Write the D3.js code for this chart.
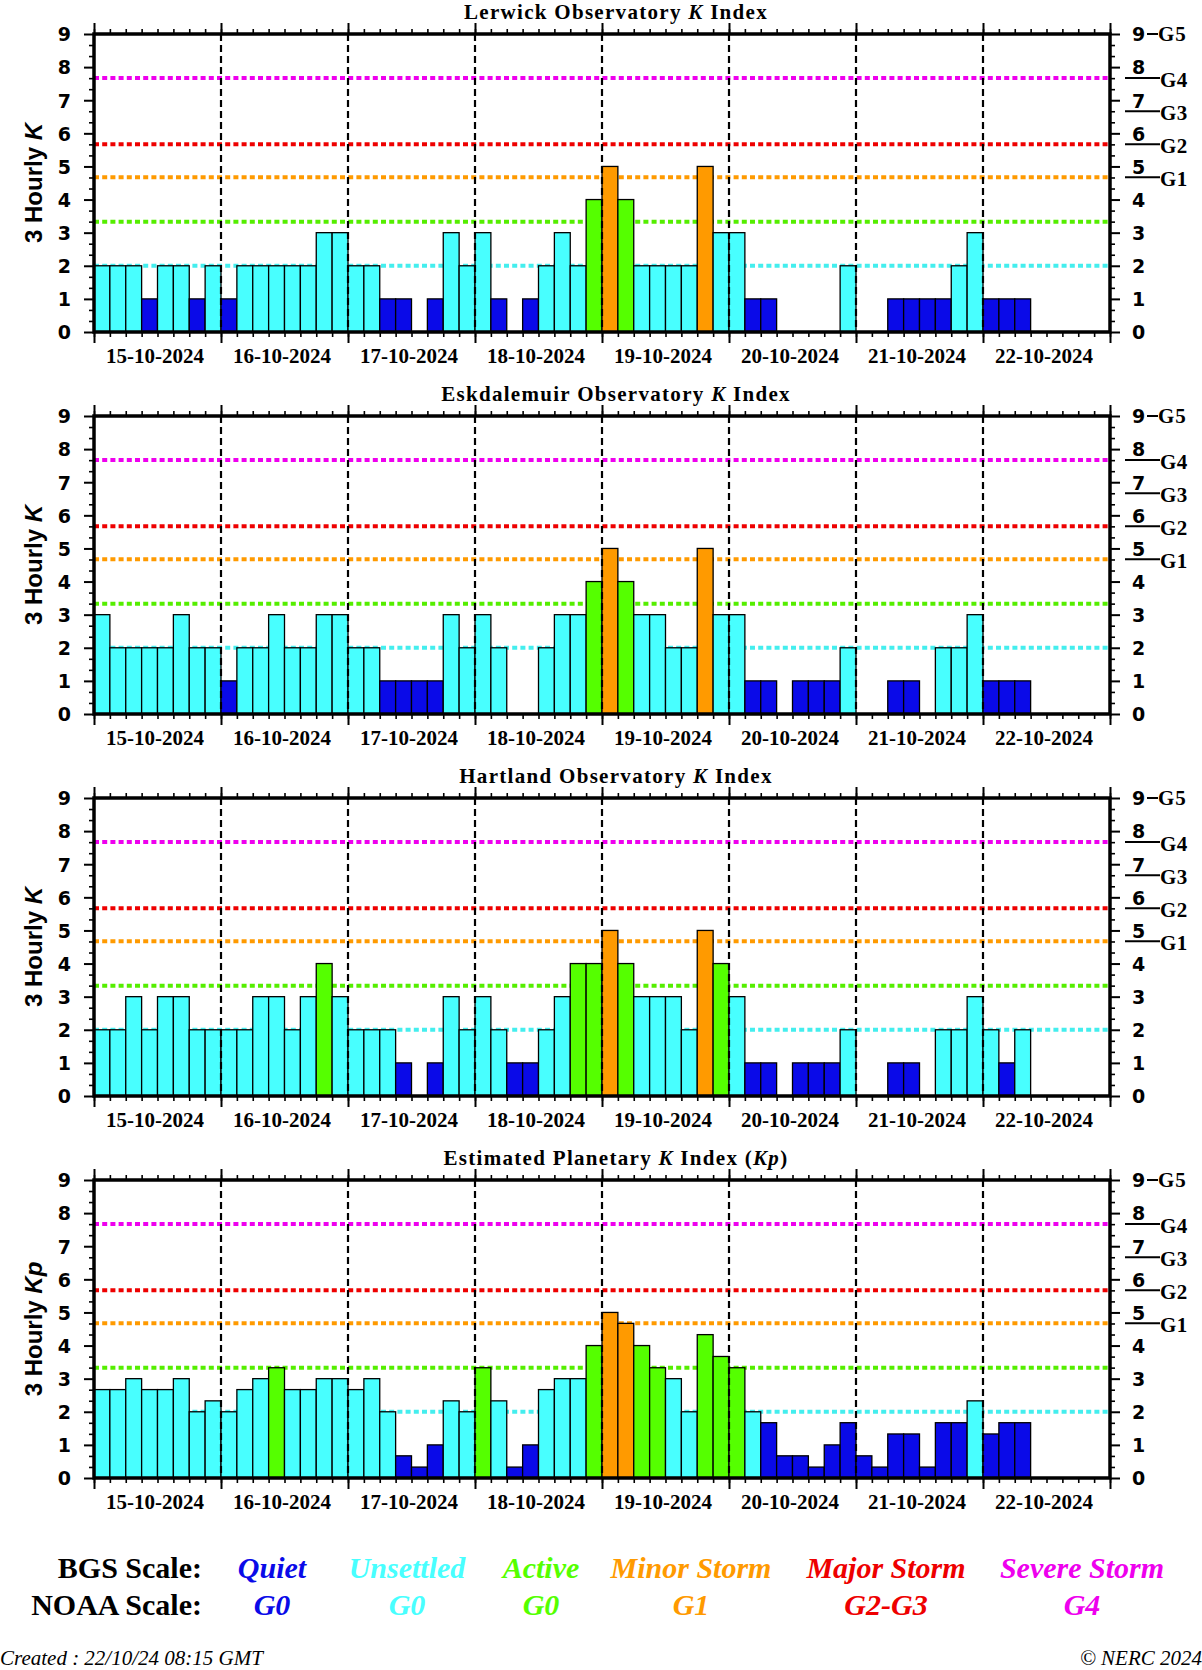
<!DOCTYPE html>
<html><head><meta charset="utf-8">
<script src="https://cdn.jsdelivr.net/npm/d3@7"></script>
<style>body{margin:0;background:#fff}svg{display:block}</style>
</head><body>
<script>
// ---------- DATA ----------
const days = ["15-10-2024","16-10-2024","17-10-2024","18-10-2024","19-10-2024","20-10-2024","21-10-2024","22-10-2024"];
const panelNames = ["Lerwick Observatory", "Eskdalemuir Observatory", "Hartland Observatory", "Estimated Planetary"];
const yLabelSymbols = ["K", "K", "K", "Kp"];
const lerwickK = [2,2,2,1,2,2,1,2, 1,2,2,2,2,2,3,3, 2,2,1,1,0,1,3,2, 3,1,0,1,2,3,2,4, 5,4,2,2,2,2,5,3, 3,1,1,0,0,0,0,2, 0,0,1,1,1,1,2,3, 1,1,1];
const eskdalemuirK = [3,2,2,2,2,3,2,2, 1,2,2,3,2,2,3,3, 2,2,1,1,1,1,3,2, 3,2,0,0,2,3,3,4, 5,4,3,3,2,2,5,3, 3,1,1,0,1,1,1,2, 0,0,1,1,0,2,2,3, 1,1,1];
const hartlandK = [2,2,3,2,3,3,2,2, 2,2,3,3,2,3,4,3, 2,2,2,1,0,1,3,2, 3,2,1,1,2,3,4,4, 5,4,3,3,3,2,5,4, 3,1,1,0,1,1,1,2, 0,0,1,1,0,2,2,3, 2,1,2];
const planetaryKp = [2.67,2.67,3,2.67,2.67,3,2,2.33, 2,2.67,3,3.33,2.67,2.67,3,3, 2.67,3,2,0.67,0.33,1,2.33,2, 3.33,2.33,0.33,1,2.67,3,3,4, 5,4.67,4,3.33,3,2,4.33,3.67, 3.33,2,1.67,0.67,0.67,0.33,1,1.67, 0.67,0.33,1.33,1.33,0.33,1.67,1.67,2.33, 1.33,1.67,1.67];
const yTicks = [0,1,2,3,4,5,6,7,8,9];
const bgsLevels = [2, 3.33, 4.67, 5.67, 7.67];           // lower bounds of Unsettled..Severe
const bgsLabels = ["Quiet","Unsettled","Active","Minor Storm","Major Storm","Severe Storm"];
const noaaLabels = ["G0","G0","G0","G1","G2-G3","G4"];
const gLabels = ["G1","G2","G3","G4"];
const gLevels = [4.67, 5.67, 6.67, 7.67];
const g5Label = "G5";
const createdText = "Created : 22/10/24 08:15 GMT";
const copyrightText = "\u00A9 NERC 2024";

// ---------- STYLE / LAYOUT ----------
const scaleColors = ["#0a0ae8", "#48ffff", "#55ff00", "#ff9a00", "#ee0000", "#ee00ee"];
const lineColors  = ["#44eeee", "#55ee00", "#ff9a00", "#ee0000", "#ee00ee"];
const W = 1202, H = 1670, L = 94, R = 1110, PH = 298;
const panelTops = [34, 416, 798, 1180];
const legendCenters = [272, 407, 541, 691, 886, 1082];
const series = [lerwickK, eskdalemuirK, hartlandK, planetaryKp];

const svg = d3.select("body").append("svg").attr("width", W).attr("height", H)
  .style("font-family", "'Liberation Serif', serif");

const t0 = Date.UTC(2024, 9, 15), t1 = Date.UTC(2024, 9, 23);
const H3 = 3 * 3600 * 1000, DAY = 24 * 3600 * 1000;
const x = d3.scaleUtc().domain([t0, t1]).range([L, R]);
const colorOf = d3.scaleThreshold().domain(bgsLevels).range(scaleColors);
const hours3 = d3.utcHour.every(3).range(new Date(t0), new Date(t1 + 1));
const dayBounds = d3.utcDay.range(new Date(t0), new Date(t1 + 1));
const noons = days.map((d, i) => new Date(t0 + i * DAY + DAY / 2));
const thirds = d3.range(0, 28).map(i => i / 3).filter(v => Math.abs(v - Math.round(v)) > 1e-6);

series.forEach((vals, p) => {
  const top = panelTops[p], bot = top + PH;
  const y = d3.scaleLinear().domain([0, 9]).range([bot, top]);
  const g = svg.append("g");

  // title
  const title = g.append("text").attr("x", 616).attr("y", top - 15).attr("text-anchor", "middle")
    .attr("font-weight", "bold").attr("font-size", 21).attr("letter-spacing", 1.3);
  title.append("tspan").text(panelNames[p] + " ");
  title.append("tspan").attr("font-style", "italic").text("K");
  title.append("tspan").text(" Index");
  if (p === 3) {
    title.append("tspan").text(" (");
    title.append("tspan").attr("font-style", "italic").text("Kp");
    title.append("tspan").text(")");
  }

  // threshold lines
  g.selectAll(".thr").data(bgsLevels).join("line")
    .attr("x1", L).attr("x2", R).attr("y1", d => y(d)).attr("y2", d => y(d))
    .attr("stroke", (d, i) => lineColors[i]).attr("stroke-width", 4).attr("stroke-dasharray", "5,3.2");

  // bars
  g.selectAll(".bar").data(vals).join("rect")
    .attr("x", (d, i) => x(t0 + i * H3))
    .attr("width", (d, i) => x(t0 + (i + 1) * H3) - x(t0 + i * H3))
    .attr("y", d => y(d)).attr("height", d => y(0) - y(d))
    .attr("fill", d => colorOf(d)).attr("stroke", "#000").attr("stroke-width", 1.3);

  // day separators
  g.selectAll(".day").data(dayBounds.slice(1, -1)).join("line")
    .attr("x1", d => x(d)).attr("x2", d => x(d)).attr("y1", top).attr("y2", bot)
    .attr("stroke", "#000").attr("stroke-width", 2.2).attr("stroke-dasharray", "7,4");

  // axes ticks
  const styleAxis = (sel, w) => { sel.select(".domain").remove(); sel.selectAll(".tick line").attr("stroke", "#000").attr("stroke-width", w); };
  g.append("g").attr("transform", `translate(0,${top})`).call(d3.axisTop(x).tickValues(hours3).tickSize(5).tickFormat(""))
    .call(s => styleAxis(s, 1.6));
  g.append("g").attr("transform", `translate(0,${top})`).call(d3.axisTop(x).tickValues(dayBounds).tickSize(11).tickFormat(""))
    .call(s => styleAxis(s, 2));
  g.append("g").attr("transform", `translate(0,${bot})`).call(d3.axisBottom(x).tickValues(hours3).tickSize(5).tickFormat(""))
    .call(s => styleAxis(s, 1.6));
  g.append("g").attr("transform", `translate(0,${bot})`).call(d3.axisBottom(x).tickValues(dayBounds).tickSize(11).tickFormat(""))
    .call(s => styleAxis(s, 2));
  const dateAx = g.append("g").attr("transform", `translate(0,${bot})`)
    .call(d3.axisBottom(x).tickValues(noons).tickSize(0).tickPadding(0).tickFormat((d, i) => days[i]));
  dateAx.select(".domain").remove();
  dateAx.selectAll("text").attr("y", 31).attr("dy", 0).attr("dx", -3).attr("font-family", "'Liberation Serif', serif")
    .attr("font-weight", "bold").attr("font-size", 21).attr("fill", "#000");

  // left axis
  g.append("g").attr("transform", `translate(${L},0)`).call(d3.axisLeft(y).tickValues(thirds).tickSize(5).tickFormat(""))
    .call(s => styleAxis(s, 1.6));
  const la = g.append("g").attr("transform", `translate(${L},0)`)
    .call(d3.axisLeft(y).tickValues(yTicks).tickSize(10).tickPadding(13).tickFormat(d3.format("d")));
  styleAxis(la, 2);
  la.selectAll("text").attr("font-family", "'DejaVu Sans', sans-serif").attr("font-weight", "bold")
    .attr("font-size", 19).attr("fill", "#000").attr("dy", "0.36em");

  // right axis
  g.append("g").attr("transform", `translate(${R},0)`).call(d3.axisRight(y).tickValues(thirds).tickSize(5).tickFormat(""))
    .call(s => styleAxis(s, 1.6));
  const ra = g.append("g").attr("transform", `translate(${R},0)`)
    .call(d3.axisRight(y).tickValues(yTicks).tickSize(10).tickPadding(12).tickFormat(d3.format("d")));
  styleAxis(ra, 2);
  ra.selectAll("text").attr("font-family", "'DejaVu Sans', sans-serif").attr("font-weight", "bold")
    .attr("font-size", 19).attr("fill", "#000").attr("dy", "0.36em");

  // NOAA G labels on right
  g.selectAll(".gl").data(gLevels).join("line")
    .attr("x1", R + 15).attr("x2", R + 50).attr("y1", d => y(d)).attr("y2", d => y(d))
    .attr("stroke", "#000").attr("stroke-width", 2);
  g.selectAll(".gt").data(gLevels).join("text")
    .attr("x", R + 50).attr("y", d => y(d)).attr("dy", "0.42em")
    .attr("font-weight", "bold").attr("font-size", 21).attr("letter-spacing", 0.3).text((d, i) => gLabels[i]);
  g.append("line").attr("x1", R + 37).attr("x2", R + 48).attr("y1", y(9)).attr("y2", y(9))
    .attr("stroke", "#000").attr("stroke-width", 2);
  g.append("text").attr("x", R + 48).attr("y", y(9)).attr("dy", "0.33em")
    .attr("font-weight", "bold").attr("font-size", 21).attr("letter-spacing", 0.8).text(g5Label);

  // frame
  g.append("rect").attr("x", L).attr("y", top).attr("width", R - L).attr("height", PH)
    .attr("fill", "none").attr("stroke", "#000").attr("stroke-width", 3.5);

  // y label
  const yl = g.append("text").attr("transform", `translate(42,${(top + bot) / 2}) rotate(-90)`)
    .attr("text-anchor", "middle").attr("font-family", "'Liberation Sans', sans-serif")
    .attr("font-weight", "bold").attr("font-size", 24);
  yl.append("tspan").text("3 Hourly ");
  yl.append("tspan").attr("font-style", "italic").text(yLabelSymbols[p]);
});

// ---------- LEGEND ----------
const lx = d3.scaleOrdinal().domain(d3.range(bgsLabels.length)).range(legendCenters);
svg.append("text").attr("x", 202).attr("y", 1578).attr("text-anchor", "end")
  .attr("font-weight", "bold").attr("font-size", 30).text("BGS Scale:");
svg.append("text").attr("x", 202).attr("y", 1615).attr("text-anchor", "end")
  .attr("font-weight", "bold").attr("font-size", 30).text("NOAA Scale:");
svg.selectAll(".bgs").data(bgsLabels).join("text")
  .attr("x", (d, i) => lx(i)).attr("y", 1578).attr("text-anchor", "middle")
  .attr("font-weight", "bold").attr("font-style", "italic").attr("font-size", 30)
  .attr("fill", (d, i) => scaleColors[i]).text(d => d);
svg.selectAll(".noaa").data(noaaLabels).join("text")
  .attr("x", (d, i) => lx(i)).attr("y", 1615).attr("text-anchor", "middle")
  .attr("font-weight", "bold").attr("font-style", "italic").attr("font-size", 30)
  .attr("fill", (d, i) => scaleColors[i]).text(d => d);

svg.append("text").attr("x", 0).attr("y", 1665).attr("font-style", "italic").attr("font-size", 21).text(createdText);
svg.append("text").attr("x", 1202).attr("y", 1665).attr("text-anchor", "end").attr("font-style", "italic").attr("font-size", 21).text(copyrightText);
</script>
</body></html>
